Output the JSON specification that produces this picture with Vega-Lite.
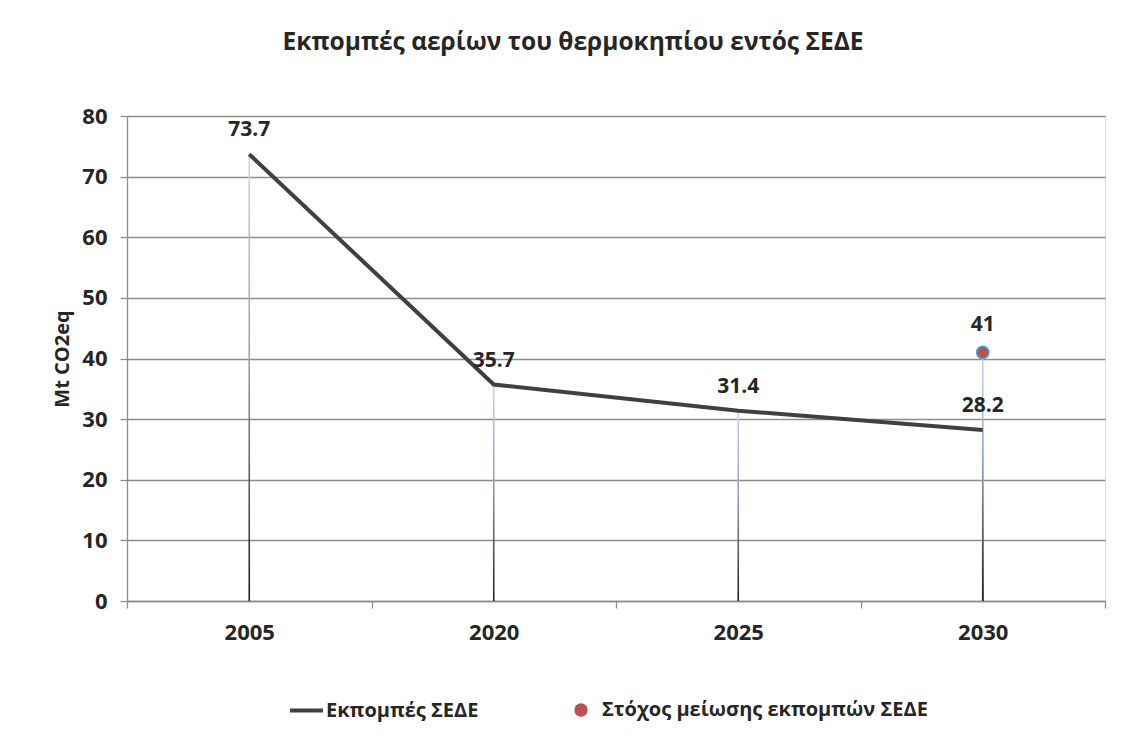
{
  "$schema": "https://vega.github.io/schema/vega-lite/v6.json",
  "width": 978,
  "height": 485,
  "autosize": "none",
  "padding": {"left": 127, "top": 116, "right": 25, "bottom": 141},
  "background": "white",
  "title": {
    "text": "Εκπομπές αερίων του θερμοκηπίου εντός ΣΕΔΕ",
    "font": "Open Sans",
    "fontSize": 24.5,
    "fontWeight": "bold",
    "color": "#262626",
    "anchor": "middle",
    "frame": "group",
    "baseline": "alphabetic",
    "offset": 31,
    "dx": -43
  },
  "data": {
    "values": [
      {"year": "2005", "emissions": 73.7, "target": null},
      {"year": "2020", "emissions": 35.7, "target": null},
      {"year": "2025", "emissions": 31.4, "target": null},
      {"year": "2030", "emissions": 28.2, "target": 41}
    ]
  },
  "encoding": {
    "x": {
      "field": "year",
      "type": "ordinal",
      "scale": {"paddingInner": 0, "paddingOuter": 0},
      "axis": {
        "title": null,
        "labelAngle": 0,
        "tickBand": "extent",
        "tickSize": 7,
        "tickColor": "#8c8c8c",
        "tickWidth": 1.3,
        "domainColor": "#8c8c8c",
        "domainWidth": 1.3,
        "labelFont": "Open Sans",
        "labelFontSize": 22,
        "labelFontWeight": "bold",
        "labelColor": "#262626",
        "labelPadding": 14
      }
    }
  },
  "layer": [
    {
      "mark": {
        "type": "bar",
        "width": 1.6,
        "fill": {
          "gradient": "linear",
          "x1": 0, "y1": 0, "x2": 0, "y2": 1,
          "stops": [
            {"offset": 0, "color": "#c6d9f1"},
            {"offset": 0.45, "color": "#8fa3bb"},
            {"offset": 1, "color": "#1e1e1e"}
          ]
        }
      },
      "encoding": {
        "y": {
          "field": "emissions",
          "type": "quantitative",
          "scale": {"domain": [0, 80]},
          "axis": {
            "title": "Mt CO2eq",
            "titleFont": "Open Sans",
            "titleFontSize": 20,
            "titleFontWeight": "bold",
            "titleColor": "#262626",
            "titlePadding": 9,
            "values": [0, 10, 20, 30, 40, 50, 60, 70, 80],
            "tickSize": 7,
            "tickColor": "#8c8c8c",
            "tickWidth": 1.3,
            "domainColor": "#8c8c8c",
            "domainWidth": 1.3,
            "grid": true,
            "gridColor": "#8c8c8c",
            "gridWidth": 1.3,
            "labelFont": "Open Sans",
            "labelFontSize": 22,
            "labelFontWeight": "bold",
            "labelColor": "#262626",
            "labelPadding": 13
          }
        }
      }
    },
    {
      "mark": {
        "type": "bar",
        "width": 1.6,
        "fill": {
          "gradient": "linear",
          "x1": 0, "y1": 0, "x2": 0, "y2": 1,
          "stops": [
            {"offset": 0, "color": "#c6d9f1"},
            {"offset": 0.45, "color": "#8fa3bb"},
            {"offset": 1, "color": "#1e1e1e"}
          ]
        }
      },
      "transform": [{"filter": "datum.target != null"}],
      "encoding": {
        "y": {"field": "target", "type": "quantitative"}
      }
    },
    {
      "mark": {"type": "line", "strokeWidth": 4, "strokeCap": "butt"},
      "encoding": {
        "y": {"field": "emissions", "type": "quantitative"},
        "stroke": {
          "datum": "Εκπομπές ΣΕΔΕ",
          "type": "nominal",
          "scale": {"range": ["#404040"]},
          "legend": {
            "title": null,
            "orient": "none",
            "legendX": 161,
            "legendY": 576,
            "padding": 0,
            "symbolType": "stroke",
            "symbolSize": 1089,
            "symbolStrokeWidth": 4,
            "labelFont": "Open Sans",
            "labelFontSize": 20,
            "labelFontWeight": "bold",
            "labelColor": "#262626",
            "labelOffset": 1,
            "labelLimit": 0
          }
        }
      }
    },
    {
      "mark": {"type": "point", "filled": true, "size": 150, "stroke": "#3ba7e0", "strokeWidth": 1.5, "opacity": 1},
      "transform": [{"filter": "datum.target != null"}],
      "encoding": {
        "y": {"field": "target", "type": "quantitative"},
        "fill": {
          "datum": "Στόχος μείωσης εκπομπών ΣΕΔΕ",
          "type": "nominal",
          "scale": {"range": ["#c0504d"]},
          "legend": {
            "title": null,
            "orient": "none",
            "legendX": 444,
            "legendY": 584,
            "padding": 0,
            "symbolType": "circle",
            "symbolSize": 180,
            "symbolStrokeWidth": 0,
            "symbolOpacity": 1,
            "labelFont": "Open Sans",
            "labelFontSize": 20,
            "labelFontWeight": "bold",
            "labelColor": "#262626",
            "labelOffset": 11,
            "labelLimit": 0
          }
        }
      }
    },
    {
      "mark": {"type": "text", "font": "Open Sans", "fontSize": 21, "fontWeight": "bold", "color": "#262626", "baseline": "middle", "dy": -24},
      "encoding": {
        "y": {"field": "emissions", "type": "quantitative"},
        "text": {"field": "emissions", "type": "quantitative", "format": ".1f"}
      }
    },
    {
      "mark": {"type": "text", "font": "Open Sans", "fontSize": 21, "fontWeight": "bold", "color": "#262626", "baseline": "middle", "dy": -27},
      "transform": [{"filter": "datum.target != null"}],
      "encoding": {
        "y": {"field": "target", "type": "quantitative"},
        "text": {"field": "target", "type": "quantitative", "format": "d"}
      }
    }
  ]
}
